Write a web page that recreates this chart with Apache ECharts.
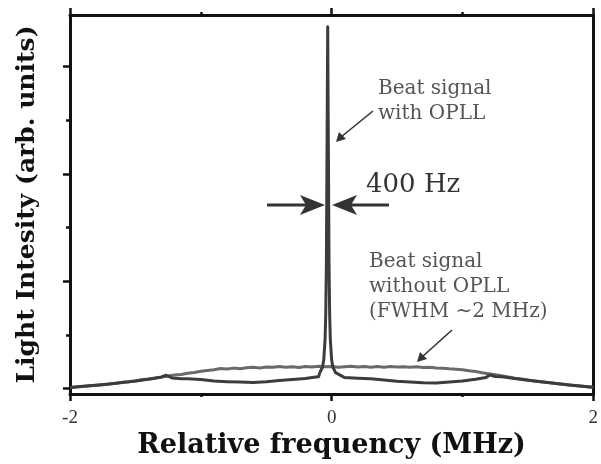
<!DOCTYPE html>
<html>
<head>
<meta charset="utf-8">
<script src="https://cdn.jsdelivr.net/npm/echarts@6/dist/echarts.min.js"></script>
<style>
html,body{margin:0;padding:0;background:#fff;}
#chart{width:601px;height:464px;}
</style>
</head>
<body>
<div id="chart"></div>
<script>
// ---- data (MHz, arb. units) ----
var xTickLabels = ['-2', '0', '2'];
var yMajorTicks = [0, 1, 2, 3];
var yMinorTicks = [0.5, 1.5, 2.5];

// Beat signal without OPLL (broad, FWHM ~2 MHz)
var withoutX = [-2.00,-1.95,-1.90,-1.85,-1.80,-1.75,-1.70,-1.65,-1.60,-1.55,-1.50,-1.45,-1.40,-1.35,-1.30,-1.25,-1.20,-1.15,-1.10,-1.05,-1.00,-0.95,-0.90,-0.85,-0.80,-0.75,-0.70,-0.65,-0.60,-0.55,-0.50,-0.45,-0.40,-0.35,-0.30,-0.25,-0.20,-0.15,-0.10,-0.05,0.00,0.05,0.10,0.15,0.20,0.25,0.30,0.35,0.40,0.45,0.50,0.55,0.60,0.65,0.70,0.75,0.80,0.85,0.90,0.95,1.00,1.05,1.10,1.15,1.20,1.25,1.30,1.35,1.40,1.45,1.50,1.55,1.60,1.65,1.70,1.75,1.80,1.85,1.90,1.95,2.00];
var withoutY = [0.012,0.016,0.020,0.027,0.032,0.036,0.045,0.050,0.060,0.064,0.072,0.083,0.090,0.101,0.108,0.118,0.127,0.133,0.145,0.152,0.163,0.170,0.176,0.188,0.183,0.192,0.187,0.196,0.200,0.194,0.203,0.199,0.207,0.201,0.205,0.198,0.206,0.202,0.209,0.204,0.206,0.199,0.205,0.210,0.203,0.207,0.199,0.206,0.201,0.208,0.202,0.205,0.199,0.204,0.198,0.201,0.194,0.191,0.186,0.182,0.176,0.167,0.160,0.149,0.140,0.131,0.120,0.110,0.097,0.090,0.081,0.073,0.065,0.058,0.050,0.044,0.037,0.031,0.025,0.019,0.014];

// Beat signal with OPLL (narrow 400 Hz line)
var withX = [-2.00,-1.90,-1.80,-1.70,-1.60,-1.50,-1.40,-1.35,-1.30,-1.27,-1.25,-1.22,-1.15,-1.10,-1.00,-0.90,-0.80,-0.70,-0.60,-0.50,-0.40,-0.30,-0.20,-0.15,-0.10,-0.09,-0.07,-0.06,-0.05,-0.045,-0.04,-0.035,-0.03,-0.025,-0.02,-0.015,-0.01,0.00,0.01,0.03,0.10,0.20,0.30,0.40,0.50,0.60,0.70,0.80,0.90,1.00,1.10,1.18,1.21,1.25,1.30,1.40,1.50,1.60,1.70,1.80,1.90,2.00];
var withY = [0.012,0.022,0.033,0.044,0.058,0.072,0.088,0.097,0.110,0.125,0.118,0.100,0.094,0.092,0.085,0.072,0.066,0.062,0.058,0.064,0.076,0.085,0.096,0.104,0.112,0.150,0.200,0.270,0.460,0.690,1.180,2.270,3.370,2.270,1.180,0.690,0.460,0.270,0.200,0.150,0.104,0.098,0.092,0.082,0.070,0.062,0.055,0.054,0.062,0.072,0.088,0.104,0.128,0.114,0.112,0.095,0.080,0.066,0.052,0.038,0.026,0.014];

function pairs(xs, ys){ return xs.map(function(x,i){ return [x, ys[i]]; }); }

var serif = '"DejaVu Serif", serif';
var chart = echarts.init(document.getElementById('chart'), null, {renderer:'canvas'});
var axisLine = {show:true, onZero:false, lineStyle:{color:'#111', width:3}};

var option = {
  backgroundColor:'#fff',
  animation:false,
  grid:{left:70, right:7, top:15, bottom:66, containLabel:false},
  xAxis:[{
    type:'value', position:'bottom', min:-2, max:2, interval:2,
    axisLine:axisLine,
    axisTick:{show:true, inside:false, length:7, lineStyle:{color:'#111', width:2.5}},
    minorTick:{show:true, splitNumber:2, length:3, lineStyle:{color:'#111', width:2.5}},
    splitLine:{show:false}, minorSplitLine:{show:false},
    axisLabel:{show:true, margin:14, fontFamily:'"Liberation Serif", serif', fontSize:19, color:'#333',
      formatter:function(v){ var i = [-2,0,2].indexOf(v); return i>=0 ? xTickLabels[i] : ''; }},
    name:'Relative frequency (MHz)', nameLocation:'middle', nameGap:33,
    nameTextStyle:{fontFamily:serif, fontWeight:'bold', fontSize:27, color:'#111'}
  },{
    type:'value', position:'top', min:-2, max:2, interval:2,
    axisLine:axisLine,
    axisTick:{show:true, inside:false, length:7, lineStyle:{color:'#111', width:2.5}},
    minorTick:{show:true, splitNumber:2, length:3, lineStyle:{color:'#111', width:2.5}},
    splitLine:{show:false}, axisLabel:{show:false}
  }],
  yAxis:[{
    type:'value', position:'left', min:-0.05, max:3.48,
    axisLine:axisLine,
    axisTick:{show:true, inside:false, length:7, customValues:yMajorTicks, lineStyle:{color:'#111', width:2.5}},
    axisLabel:{show:false},
    splitLine:{show:false},
    name:'Light Intesity (arb. units)', nameLocation:'middle', nameGap:30,
    nameTextStyle:{fontFamily:serif, fontWeight:'bold', fontSize:25, color:'#111'}
  },{
    type:'value', position:'left', min:-0.05, max:3.48,
    axisLine:{show:false, onZero:false},
    axisTick:{show:true, inside:false, length:4, customValues:yMinorTicks, lineStyle:{color:'#111', width:2.5}},
    axisLabel:{show:false}, splitLine:{show:false}
  },{
    type:'value', position:'right', min:-0.05, max:3.48,
    axisLine:axisLine, axisTick:{show:false}, axisLabel:{show:false}, splitLine:{show:false}
  }],
  series:[{
    name:'Beat signal without OPLL', type:'line', xAxisIndex:0, yAxisIndex:0,
    data:pairs(withoutX, withoutY), showSymbol:false, smooth:false,
    lineStyle:{color:'#6a6a6a', width:3}, z:2
  },{
    name:'Beat signal with OPLL', type:'line', xAxisIndex:0, yAxisIndex:0,
    data:pairs(withX, withY), showSymbol:false, smooth:false,
    lineStyle:{color:'#3c3c3c', width:3, join:'round'}, z:3
  }],
  graphic:[
    {type:'text', left:378, top:79, style:{text:'Beat signal', font:'20px "DejaVu Serif"', fill:'#555'}},
    {type:'text', left:378, top:104, style:{text:'with OPLL', font:'20px "DejaVu Serif"', fill:'#555'}},
    {type:'line', shape:{x1:373, y1:111, x2:341, y2:137}, style:{stroke:'#333', lineWidth:1.6}},
    {type:'polygon', shape:{points:[[336,142],[339,132],[346,139]]}, style:{fill:'#333'}},
    {type:'text', left:366, top:172, style:{text:'400 Hz', font:'26px "DejaVu Serif"', fill:'#333'}},
    {type:'line', shape:{x1:267, y1:205, x2:306, y2:205}, style:{stroke:'#333', lineWidth:3}},
    {type:'polygon', shape:{points:[[325,205],[300,195],[306,205],[300,215]]}, style:{fill:'#333'}},
    {type:'line', shape:{x1:389, y1:205, x2:351, y2:205}, style:{stroke:'#333', lineWidth:3}},
    {type:'polygon', shape:{points:[[332,205],[357,195],[351,205],[357,215]]}, style:{fill:'#333'}},
    {type:'text', left:369, top:252, style:{text:'Beat signal', font:'20px "DejaVu Serif"', fill:'#555'}},
    {type:'text', left:369, top:277, style:{text:'without OPLL', font:'20px "DejaVu Serif"', fill:'#555'}},
    {type:'text', left:369, top:302, style:{text:'(FWHM \u223C2 MHz)', font:'20px "DejaVu Serif"', fill:'#555'}},
    {type:'line', shape:{x1:452, y1:330, x2:422, y2:357}, style:{stroke:'#333', lineWidth:1.6}},
    {type:'polygon', shape:{points:[[417,362],[420,352],[427,359]]}, style:{fill:'#333'}}
  ]
};
chart.setOption(option);
</script>
</body>
</html>
